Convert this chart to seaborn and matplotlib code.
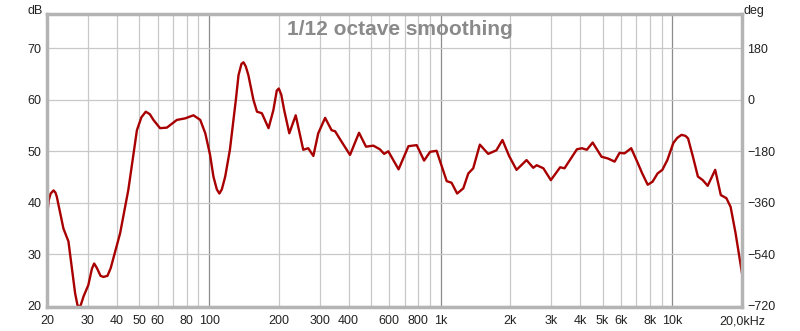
import matplotlib
matplotlib.use("Agg")
import matplotlib.pyplot as plt
import matplotlib.ticker as mticker
import seaborn as sns
import pandas as pd

# Frequency response (Hz, dB)
freq_hz = [20, 20.3, 20.7, 21.3, 21.7, 22.0, 23.5, 24.7, 25.6, 26.4,
           27.0, 27.5, 28.0, 28.7, 30.1, 31.2, 31.9, 32.8, 34.0, 35.0,
           36.4, 37.6, 41.3, 44.8, 48.8, 51.0, 53.3, 55.5, 57.5, 61.4,
           65.7, 72.6, 78.8, 85.6, 91.6, 96.3, 101, 104.4, 108, 110.8,
           113.5, 117.4, 123, 130.5, 134, 138, 140.8, 144, 147.8, 155.4,
           161, 169, 180.6, 189.5, 196, 200, 205, 211, 222, 236.6,
           255, 268, 282, 296, 317, 338, 350, 373, 406, 444,
           476, 512, 546, 570, 594, 658, 726, 788, 848, 900,
           960, 1000, 1062, 1114, 1178, 1252, 1316, 1382, 1476, 1604,
           1740, 1848, 1974, 2126, 2348, 2510, 2598, 2776, 2990, 3280,
           3424, 3876, 4072, 4276, 4532, 4948, 5280, 5638, 5920, 6220,
           6646, 7100, 7400, 7832, 8220, 8640, 9060, 9520, 10100, 10500,
           10960, 11400, 11700, 12280, 12900, 13540, 14220, 15320, 16200, 17120,
           17860, 18760, 20000]
spl_db = [37.5, 40.5, 41.8, 42.4, 42.0, 41.2, 35.0, 32.5, 27.0, 22.4,
          20.2, 19.5, 20.3, 21.8, 24.0, 27.2, 28.2, 27.3, 25.8, 25.6,
          25.8, 27.3, 34.1, 42.5, 54.1, 56.6, 57.7, 57.2, 56.1, 54.5,
          54.6, 56.1, 56.4, 57.0, 56.1, 53.5, 49.3, 45.1, 42.6, 41.8,
          42.6, 45.1, 50.3, 60.0, 64.8, 67.0, 67.3, 66.5, 64.8, 60.0,
          57.7, 57.4, 54.5, 58.0, 61.8, 62.2, 61.0, 58.0, 53.5, 57.0,
          50.3, 50.6, 49.1, 53.5, 56.5, 54.1, 53.9, 51.9, 49.3, 53.6,
          50.9, 51.1, 50.4, 49.5, 50.0, 46.5, 51.0, 51.2, 48.2, 49.9,
          50.1, 47.7, 44.2, 43.9, 41.8, 42.8, 45.7, 46.7, 51.3, 49.5,
          50.2, 52.2, 49.1, 46.4, 48.3, 46.8, 47.3, 46.7, 44.4, 46.9,
          46.7, 50.4, 50.6, 50.3, 51.7, 48.95, 48.6, 48.0, 49.7, 49.6,
          50.6, 47.7, 45.8, 43.5, 44.1, 45.7, 46.4, 48.3, 51.6, 52.6,
          53.2, 53.0, 52.5, 48.95, 45.1, 44.4, 43.3, 46.4, 41.5, 40.9,
          39.2, 34.1, 26.3]

db_ticks = [20, 30, 40, 50, 60, 70]
deg_ticks = [-720, -540, -360, -180, 0, 180]
decade_ticks = [100, 1000, 10000]
decade_labels = ["100", "1k", "10k"]
minor_ticks = [20, 30, 40, 50, 60, 70, 80, 90,
               200, 300, 400, 500, 600, 700, 800, 900,
               2000, 3000, 4000, 5000, 6000, 7000, 8000, 9000, 20000]
minor_labels = ["20", "30", "40", "50", "60", "", "80", "",
                "200", "300", "400", "", "600", "", "800", "",
                "2k", "3k", "4k", "5k", "6k", "", "8k", "", "20,0kHz"]

df = pd.DataFrame({"Frequency": freq_hz, "SPL": spl_db})

sns.set_style("white")
plt.rcParams["font.family"] = ["Liberation Sans", "DejaVu Sans"]

fig = plt.figure(figsize=(8, 3.31), dpi=100)
ax = fig.add_axes([0.059, 0.0725, 0.8685, 0.8855])
ax.set_xscale("log")

sns.lineplot(data=df, x="Frequency", y="SPL", color="#a80000", lw=1.7, ax=ax,
             solid_joinstyle="round", solid_capstyle="round")

ax.set_xlim(20, 20000)
ax.set_ylim(19.75, 76.7)
ax.set(xlabel="", ylabel="")

ax.xaxis.set_major_locator(mticker.FixedLocator(decade_ticks))
ax.xaxis.set_major_formatter(mticker.FixedFormatter(decade_labels))
ax.xaxis.set_minor_locator(mticker.FixedLocator(minor_ticks))
ax.xaxis.set_minor_formatter(mticker.FixedFormatter(minor_labels))
ax.set_yticks(db_ticks)

ax.grid(which="major", axis="x", color="#8c8c8c", lw=0.9)
ax.grid(which="minor", axis="x", color="#c8c8c8", lw=0.9)
ax.grid(which="major", axis="y", color="#c8c8c8", lw=0.9)
ax.tick_params(axis="x", which="both", length=0, labelsize=9, pad=6, colors="#222222")
ax.tick_params(axis="y", length=0, labelsize=9, pad=4, colors="#222222")

for sp in ax.spines.values():
    sp.set_color("#b4b4b4")
    sp.set_linewidth(2.5)

# right-hand phase axis (deg), mapped linearly onto the dB axis
ax2 = ax.twinx()
lo, hi = ax.get_ylim()
ax2.set_ylim(180 + (lo - 70) * 18, 180 + (hi - 70) * 18)
ax2.set_yticks(deg_ticks)
ax2.tick_params(axis="y", length=0, labelsize=9, pad=4, colors="#222222")
ax2.grid(False)
for sp in ax2.spines.values():
    sp.set_visible(False)

ax.text(0.508, 0.948, "1/12 octave smoothing", transform=ax.transAxes,
        ha="center", va="center", fontsize=15, fontweight="bold", color="#8a8a8a")
fig.text(0.034, 0.985, "dB", ha="left", va="top", fontsize=9, color="#222222")
fig.text(0.930, 0.985, "deg", ha="left", va="top", fontsize=9, color="#222222")

fig.savefig("out.png", dpi=100)
plt.close(fig)
